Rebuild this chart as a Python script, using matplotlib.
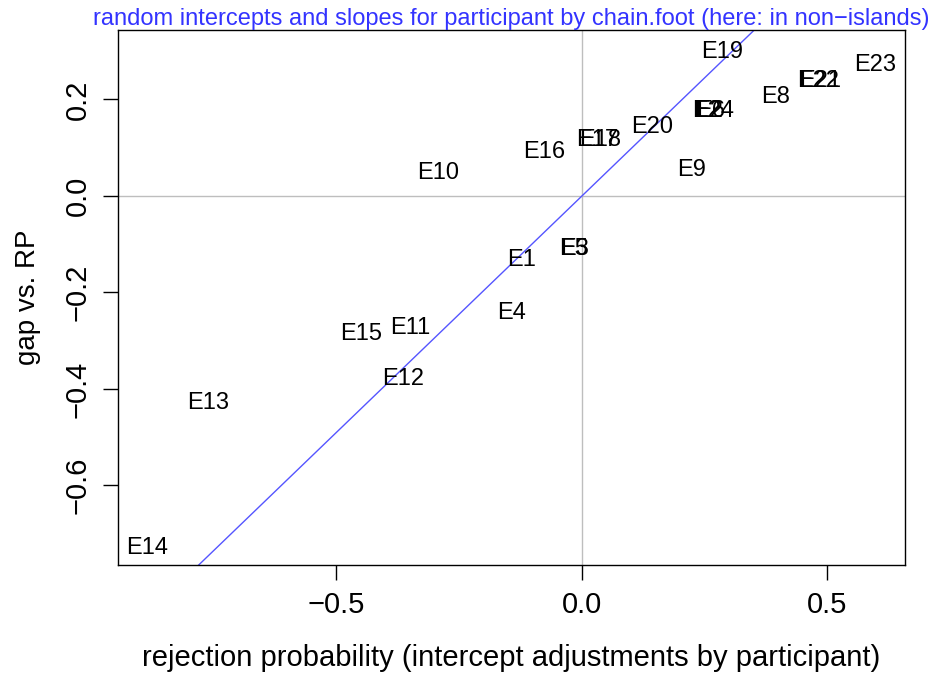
import matplotlib
matplotlib.use("Agg")
import matplotlib.pyplot as plt

labels = ["E19", "E23", "E22", "E21", "E8", "E24", "E2", "E6", "E20", "E17", "E18",
          "E16", "E10", "E9", "E5", "E3", "E1", "E4", "E11", "E15", "E12", "E13", "E14"]
xs = [0.285, 0.597, 0.481, 0.485, 0.395, 0.267, 0.257, 0.262, 0.143, 0.031, 0.036,
      -0.077, -0.293, 0.224, -0.018, -0.016, -0.124, -0.143, -0.350, -0.450, -0.365, -0.762, -0.886]
ys = [0.303, 0.276, 0.243, 0.243, 0.210, 0.181, 0.181, 0.181, 0.148, 0.122, 0.122,
      0.097, 0.052, 0.060, -0.105, -0.105, -0.128, -0.237, -0.268, -0.282, -0.375, -0.425, -0.724]
xticks = [-0.5, 0.0, 0.5]
yticks = [-0.6, -0.4, -0.2, 0.0, 0.2]

plt.rcParams['font.family'] = ['Liberation Sans', 'DejaVu Sans']
fig = plt.figure(figsize=(9.4, 6.77), dpi=100)
ax = fig.add_axes([118/940, 1-565/677, (905-118)/940, (565-30)/677])

ax.axhline(0, color='#bebebe', lw=1)
ax.axvline(0, color='#bebebe', lw=1)
ax.axline((0, 0), slope=0.98, color='#5555ff', lw=1)
for l, x, y in zip(labels, xs, ys):
    ax.text(x, y, l, ha='center', va='center_baseline', fontsize=17, color='black')

ax.set_xlim(-0.945, 0.658)
ax.set_ylim(-0.765, 0.344)
ax.set_xticks(xticks)
ax.set_xticklabels(["\u22120.5", "0.0", "0.5"])
ax.set_yticks(yticks)
ax.set_yticklabels(["\u22120.6", "\u22120.4", "\u22120.2", "0.0", "0.2"], rotation=90, va='center')
ax.tick_params(labelsize=21, length=11, width=1, pad=8)
for s in ax.spines.values():
    s.set_linewidth(1)
ax.set_xlabel("rejection probability (intercept adjustments by participant)", fontsize=21, labelpad=18)
ax.set_ylabel("gap vs. RP", fontsize=20, labelpad=16)
ax.set_title("random intercepts and slopes for participant by chain.foot (here: in non\u2212islands)",
             color='#3333ff', fontsize=17, pad=3)
fig.savefig("out.png", dpi=100)
